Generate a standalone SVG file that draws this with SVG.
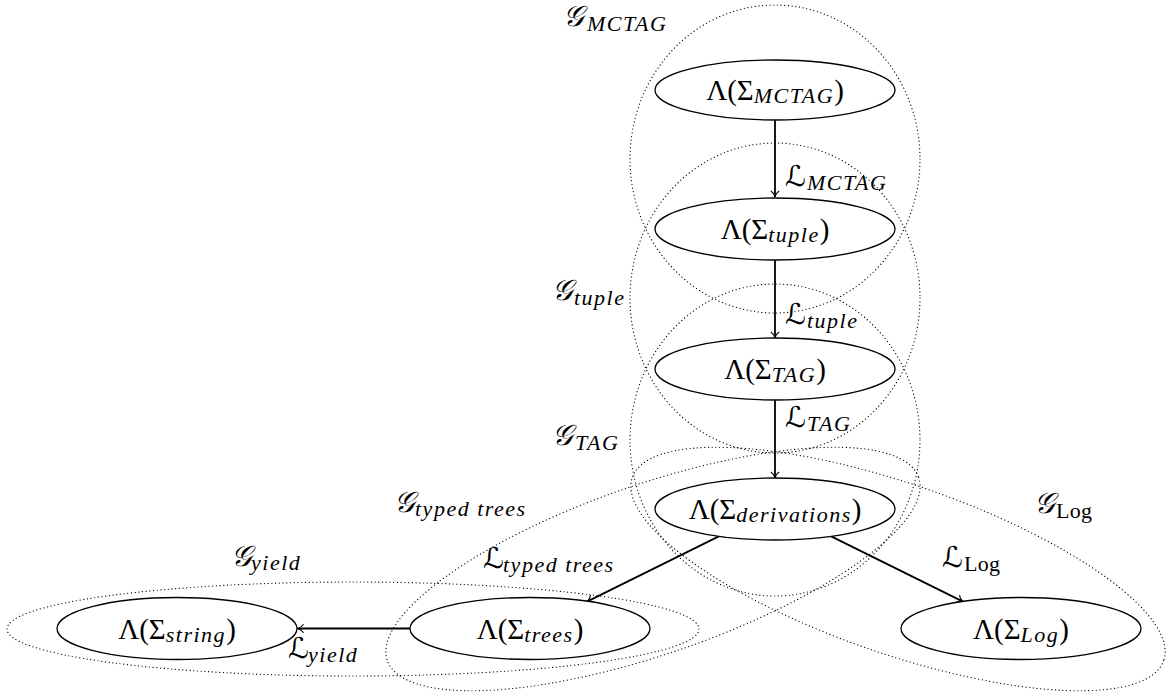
<svg xmlns="http://www.w3.org/2000/svg" width="1169" height="696" viewBox="0 0 1169 696">
<style>
.grp ellipse{fill:none;stroke:#000;stroke-width:1.2;stroke-dasharray:0.1 3.6;stroke-linecap:round}
.node ellipse{fill:#fff;stroke:#000;stroke-width:1.3}
.node text{font-family:"Liberation Serif","DejaVu Serif",serif;font-size:29px;text-anchor:middle;fill:#000}
.sub{font-family:"Liberation Serif","DejaVu Serif",serif;font-style:italic;font-size:22px;letter-spacing:1.5px}
.up{font-style:normal;letter-spacing:0.3px}
.edge{stroke:#000;stroke-width:1.8;fill:none;marker-end:url(#arr)}
.lbl{font-family:"Liberation Serif","DejaVu Serif",serif;fill:#000}
.scr{font-family:"DejaVu Serif","DejaVu Sans","Noto Sans",serif;font-size:29px;font-style:italic}
</style>
<defs>
<marker id="arr" markerUnits="userSpaceOnUse" viewBox="-8 -6 9 12" markerWidth="9" markerHeight="12" refX="0" refY="0" orient="auto">
<path d="M-6,-4.2 C-4.5,-1.8 -1.8,-0.4 0,0 C-1.8,0.4 -4.5,1.8 -6,4.2" fill="none" stroke="#000" stroke-width="1.1"/>
</marker>
</defs>
<g id="groups" class="grp">
<ellipse id="g-mctag" cx="775" cy="159" rx="145" ry="154"/>
<ellipse id="g-tuple" cx="775" cy="298" rx="145" ry="155"/>
<ellipse id="g-tag" cx="775" cy="440" rx="145" ry="156"/>
<ellipse id="g-yield" cx="353" cy="629" rx="346" ry="47"/>
<ellipse id="g-typed" cx="653" cy="569" rx="281" ry="85" transform="rotate(-19 653 569)"/>
<ellipse id="g-log" cx="898" cy="569" rx="281" ry="85" transform="rotate(19 898 569)"/>
</g>
<g id="connectors">
<path class="edge" d="M775,120 V197"/>
<path class="edge" d="M775,260 V338"/>
<path class="edge" d="M775,400 V478"/>
<path class="edge" d="M718.8,536.4 L587,601.6"/>
<path class="edge" d="M831.2,536.4 L963,601.6"/>
<path class="edge" d="M410,628.5 H297.5"/>
</g>
<g id="n-mctag" class="node"><ellipse cx="775" cy="90" rx="120" ry="30"/><text x="775" y="100">Λ(Σ<tspan class="sub" dy="3">MCTAG</tspan><tspan dy="-3">)</tspan></text></g>
<g id="n-tuple" class="node"><ellipse cx="775" cy="229" rx="120" ry="31"/><text x="775" y="239">Λ(Σ<tspan class="sub" dy="3">tuple</tspan><tspan dy="-3">)</tspan></text></g>
<g id="n-tag" class="node"><ellipse cx="775" cy="369" rx="120" ry="31"/><text x="775" y="379">Λ(Σ<tspan class="sub" dy="3">TAG</tspan><tspan dy="-3">)</tspan></text></g>
<g id="n-derivations" class="node"><ellipse cx="775" cy="509" rx="120" ry="31"/><text x="775" y="519">Λ(Σ<tspan class="sub" dy="3">derivations</tspan><tspan dy="-3">)</tspan></text></g>
<g id="n-string" class="node"><ellipse cx="177" cy="628.5" rx="120" ry="31"/><text x="177" y="638.5">Λ(Σ<tspan class="sub" dy="3">string</tspan><tspan dy="-3">)</tspan></text></g>
<g id="n-trees" class="node"><ellipse cx="530" cy="628.5" rx="120" ry="31"/><text x="530" y="638.5">Λ(Σ<tspan class="sub" dy="3">trees</tspan><tspan dy="-3">)</tspan></text></g>
<g id="n-log" class="node"><ellipse cx="1021" cy="628.5" rx="120" ry="31"/><text x="1021" y="638.5">Λ(Σ<tspan class="sub" dy="3">Log</tspan><tspan dy="-3">)</tspan></text></g>
<g id="labels" class="lbl">
<text><tspan class="scr" x="563" y="26">𝒢</tspan><tspan class="sub" x="587" y="31">MCTAG</tspan></text>
<text><tspan class="scr" x="785" y="186">ℒ</tspan><tspan class="sub" x="807" y="190">MCTAG</tspan></text>
<text><tspan class="scr" x="552" y="300">𝒢</tspan><tspan class="sub" x="574" y="305">tuple</tspan></text>
<text><tspan class="scr" x="785" y="324">ℒ</tspan><tspan class="sub" x="807" y="328">tuple</tspan></text>
<text><tspan class="scr" x="552" y="445">𝒢</tspan><tspan class="sub" x="575" y="450">TAG</tspan></text>
<text><tspan class="scr" x="785" y="427">ℒ</tspan><tspan class="sub" x="807" y="431">TAG</tspan></text>
<text><tspan class="scr" x="394" y="512">𝒢</tspan><tspan class="sub" x="415" y="516">typed trees</tspan></text>
<text><tspan class="scr" x="483" y="568">ℒ</tspan><tspan class="sub" x="503" y="572">typed trees</tspan></text>
<text><tspan class="scr" x="231" y="566">𝒢</tspan><tspan class="sub" x="251" y="570">yield</tspan></text>
<text><tspan class="scr" x="288" y="658">ℒ</tspan><tspan class="sub" x="308" y="662">yield</tspan></text>
<text><tspan class="scr" x="1034" y="513">𝒢</tspan><tspan class="sub up" x="1056" y="518">Log</tspan></text>
<text><tspan class="scr" x="942" y="567">ℒ</tspan><tspan class="sub up" x="964" y="571">Log</tspan></text>
</g>
</svg>
